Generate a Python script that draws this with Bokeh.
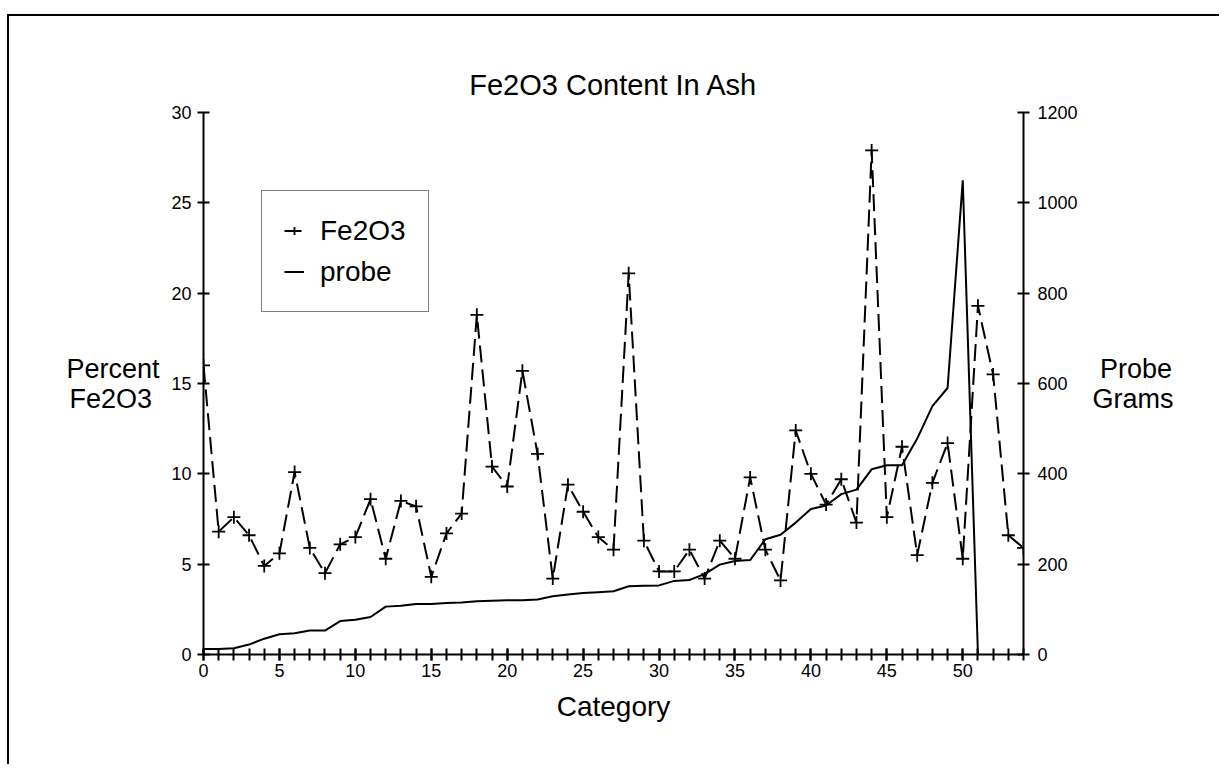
from bokeh.plotting import figure
from bokeh.models import Range1d, LinearAxis, FixedTicker, Legend, LegendItem
from bokeh.embed import file_html
from bokeh.resources import INLINE

# ---- data ----
categories = list(range(55))
fe2o3 = [16.0, 6.8, 7.6, 6.6, 4.9, 5.6, 10.1, 5.9, 4.5, 6.1,
         6.5, 8.6, 5.3, 8.5, 8.2, 4.3, 6.7, 7.8, 18.8, 10.4,
         9.3, 15.7, 11.1, 4.2, 9.4, 7.9, 6.5, 5.8, 21.1, 6.3,
         4.6, 4.6, 5.8, 4.2, 6.3, 5.3, 9.8, 5.8, 4.1, 12.4,
         10.0, 8.3, 9.7, 7.3, 27.9, 7.6, 11.5, 5.5, 9.5, 11.7,
         5.3, 19.3, 15.5, 6.6, 5.9]
probe_categories = list(range(52))
probe = [12, 12, 14, 22, 35, 45, 47, 53, 53, 74,
         77, 83, 106, 108, 112, 112, 114, 115, 118, 119,
         120, 120, 122, 129, 133, 136, 138, 140, 151, 152,
         153, 163, 165, 178, 199, 207, 209, 255, 265, 292,
         322, 330, 355, 365, 410, 419, 419, 478, 550, 590,
         1050, 0]
x_ticks = list(range(0, 51, 5))
left_ticks = [0, 5, 10, 15, 20, 25, 30]
right_ticks = [0, 200, 400, 600, 800, 1000, 1200]

FONT = "Liberation Sans"
NBSP = "\u00a0"

p = figure(width=1212, height=750, output_backend="svg", toolbar_location=None,
           x_range=Range1d(0, 54), y_range=Range1d(0, 30),
           min_border_left=194, min_border_right=198,
           min_border_top=96, min_border_bottom=112)
p.styles = {"margin-left": "7px", "margin-top": "14px",
            "border-left": "2px solid black", "border-top": "2px solid black"}
p.extra_y_ranges = {"probe": Range1d(0, 1200)}
p.outline_line_color = None
p.grid.visible = False
p.background_fill_color = "white"
p.border_fill_color = "white"

p.title.text = "Fe2O3 Content In Ash"
p.title.align = "center"
p.title.text_font = FONT
p.title.text_font_size = "29px"
p.title.text_font_style = "normal"
p.title.text_color = "black"
p.title.standoff = 24

def style_axis(ax):
    ax.axis_line_width = 2
    ax.axis_line_color = "black"
    ax.major_tick_line_width = 2
    ax.major_tick_line_color = "black"
    ax.major_tick_in = 6
    ax.major_tick_out = 6
    ax.major_label_text_font = FONT
    ax.major_label_text_font_size = "18px"
    ax.major_label_text_color = "black"
    ax.axis_label_text_font = FONT
    ax.axis_label_text_font_size = "27px"
    ax.axis_label_text_font_style = "normal"
    ax.axis_label_text_color = "black"

xa = p.xaxis[0]
xa.ticker = FixedTicker(ticks=x_ticks, minor_ticks=categories)
style_axis(xa)
xa.minor_tick_line_width = 2
xa.minor_tick_line_color = "black"
xa.minor_tick_in = 6
xa.minor_tick_out = 6
xa.major_label_standoff = 3
xa.axis_label = "Category"
xa.axis_label_text_font_size = "28px"
xa.axis_label_standoff = 11

ya = p.yaxis[0]
ya.ticker = FixedTicker(ticks=left_ticks)
style_axis(ya)
ya.minor_tick_line_color = None
ya.major_label_standoff = 6
ya.axis_label = "Percent\nFe2O3" + NBSP
ya.axis_label_orientation = "horizontal"
ya.axis_label_text_line_height = 1.0
ya.axis_label_standoff = 9

ra = LinearAxis(y_range_name="probe", ticker=FixedTicker(ticks=right_ticks))
style_axis(ra)
ra.minor_tick_line_color = None
ra.major_label_standoff = 8
ra.axis_label = NBSP + "Probe\nGrams"
ra.axis_label_orientation = "horizontal"
ra.axis_label_text_line_height = 1.0
ra.axis_label_standoff = 12
p.add_layout(ra, "right")

fe_line = p.line(categories, fe2o3, line_color="black", line_width=2, line_dash="17 7")
fe_pts = p.scatter(categories, fe2o3, marker="cross", size=13, line_color="black", line_width=1.8)
pr_line = p.line(probe_categories, probe, y_range_name="probe", line_color="black", line_width=2)

legend = Legend(items=[LegendItem(label="Fe2O3", renderers=[fe_line, fe_pts]),
                       LegendItem(label="probe", renderers=[pr_line])],
                location=(58, 342))
legend.border_line_color = "black"
legend.border_line_width = 1.5
legend.background_fill_color = "white"
legend.background_fill_alpha = 1
legend.label_text_font = FONT
legend.label_text_font_size = "28px"
legend.label_text_color = "black"
legend.padding = 22
legend.spacing = 6
legend.glyph_width = 20
legend.glyph_height = 35
legend.label_height = 35
legend.label_standoff = 16
legend.margin = 0
p.add_layout(legend)

open("out.html", "w").write(file_html(p, INLINE))
